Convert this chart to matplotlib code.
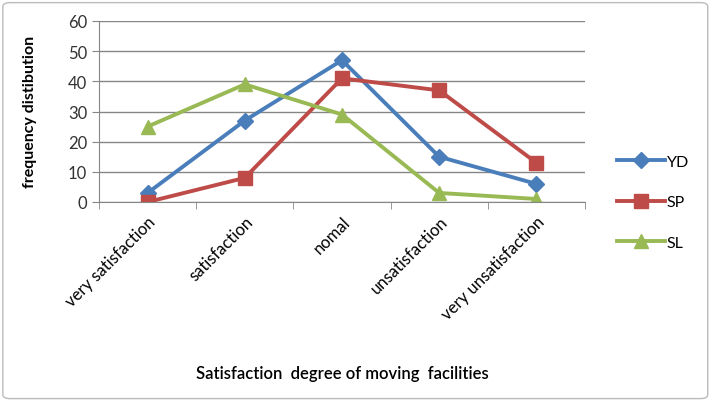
import matplotlib.pyplot as plt
from matplotlib.patches import FancyBboxPatch

categories = ['very satisfaction', 'satisfaction', 'nomal', 'unsatisfaction', 'very unsatisfaction']
yd = [3, 27, 47, 15, 6]
sp = [0, 8, 41, 37, 13]
sl = [25, 39, 29, 3, 1]

plt.rcParams['font.family'] = ['Lato', 'DejaVu Sans']

fig = plt.figure(figsize=(7.12, 4.02), dpi=100)
ax = fig.add_axes([99/712, 1-203/402, (585-99)/712, (203-22)/402])

x = list(range(len(categories)))
ax.plot(x, yd, color='#4A7EBB', lw=2.8, marker='D', ms=8, label='YD')
ax.plot(x, sp, color='#BE4B48', lw=2.8, marker='s', ms=10, label='SP')
ax.plot(x, sl, color='#98B954', lw=2.8, marker='^', ms=10, label='SL')

ax.set_xlim(-0.5, len(categories) - 0.5)
ax.set_ylim(0, 60)
ax.set_yticks(range(0, 61, 10))
ax.tick_params(axis='y', labelsize=12, labelcolor='#333333', length=5, color='#868686')
ax.set_xticks(x)
ax.set_xticklabels(categories, rotation=45, ha='right', rotation_mode='anchor', fontsize=12)
ax.tick_params(axis='x', length=0, pad=8)
ax.set_xticks([i - 0.5 for i in range(len(categories) + 1)], minor=True)
ax.tick_params(axis='x', which='minor', length=5, color='#868686')
ax.grid(axis='y', color='#868686', lw=1)
ax.set_axisbelow(True)
for s in ['top', 'right']:
    ax.spines[s].set_visible(False)
for s in ['left', 'bottom']:
    ax.spines[s].set_color('#868686')

fig.text(30/712, 1-112/402, 'frequency distibution', rotation=90, ha='center', va='center',
         fontsize=11.5, fontweight='bold')
fig.text(342/712, 1-374/402, 'Satisfaction  degree of moving  facilities', ha='center', va='center',
         fontsize=12, fontweight='semibold')

fig.legend(loc='center left', bbox_to_anchor=(617/712, 1-203/402), frameon=False,
           fontsize=11.5, labelspacing=1.65, handlelength=3.0, handletextpad=0.1,
           borderpad=0, borderaxespad=0)

border = FancyBboxPatch((0.004, 0.006), 0.99, 0.985, boxstyle='round,pad=0,rounding_size=0.01',
                        transform=fig.transFigure, fill=False, ec='#BBBBBB', lw=1)
fig.patches.append(border)

fig.savefig('out.png', dpi=100)
